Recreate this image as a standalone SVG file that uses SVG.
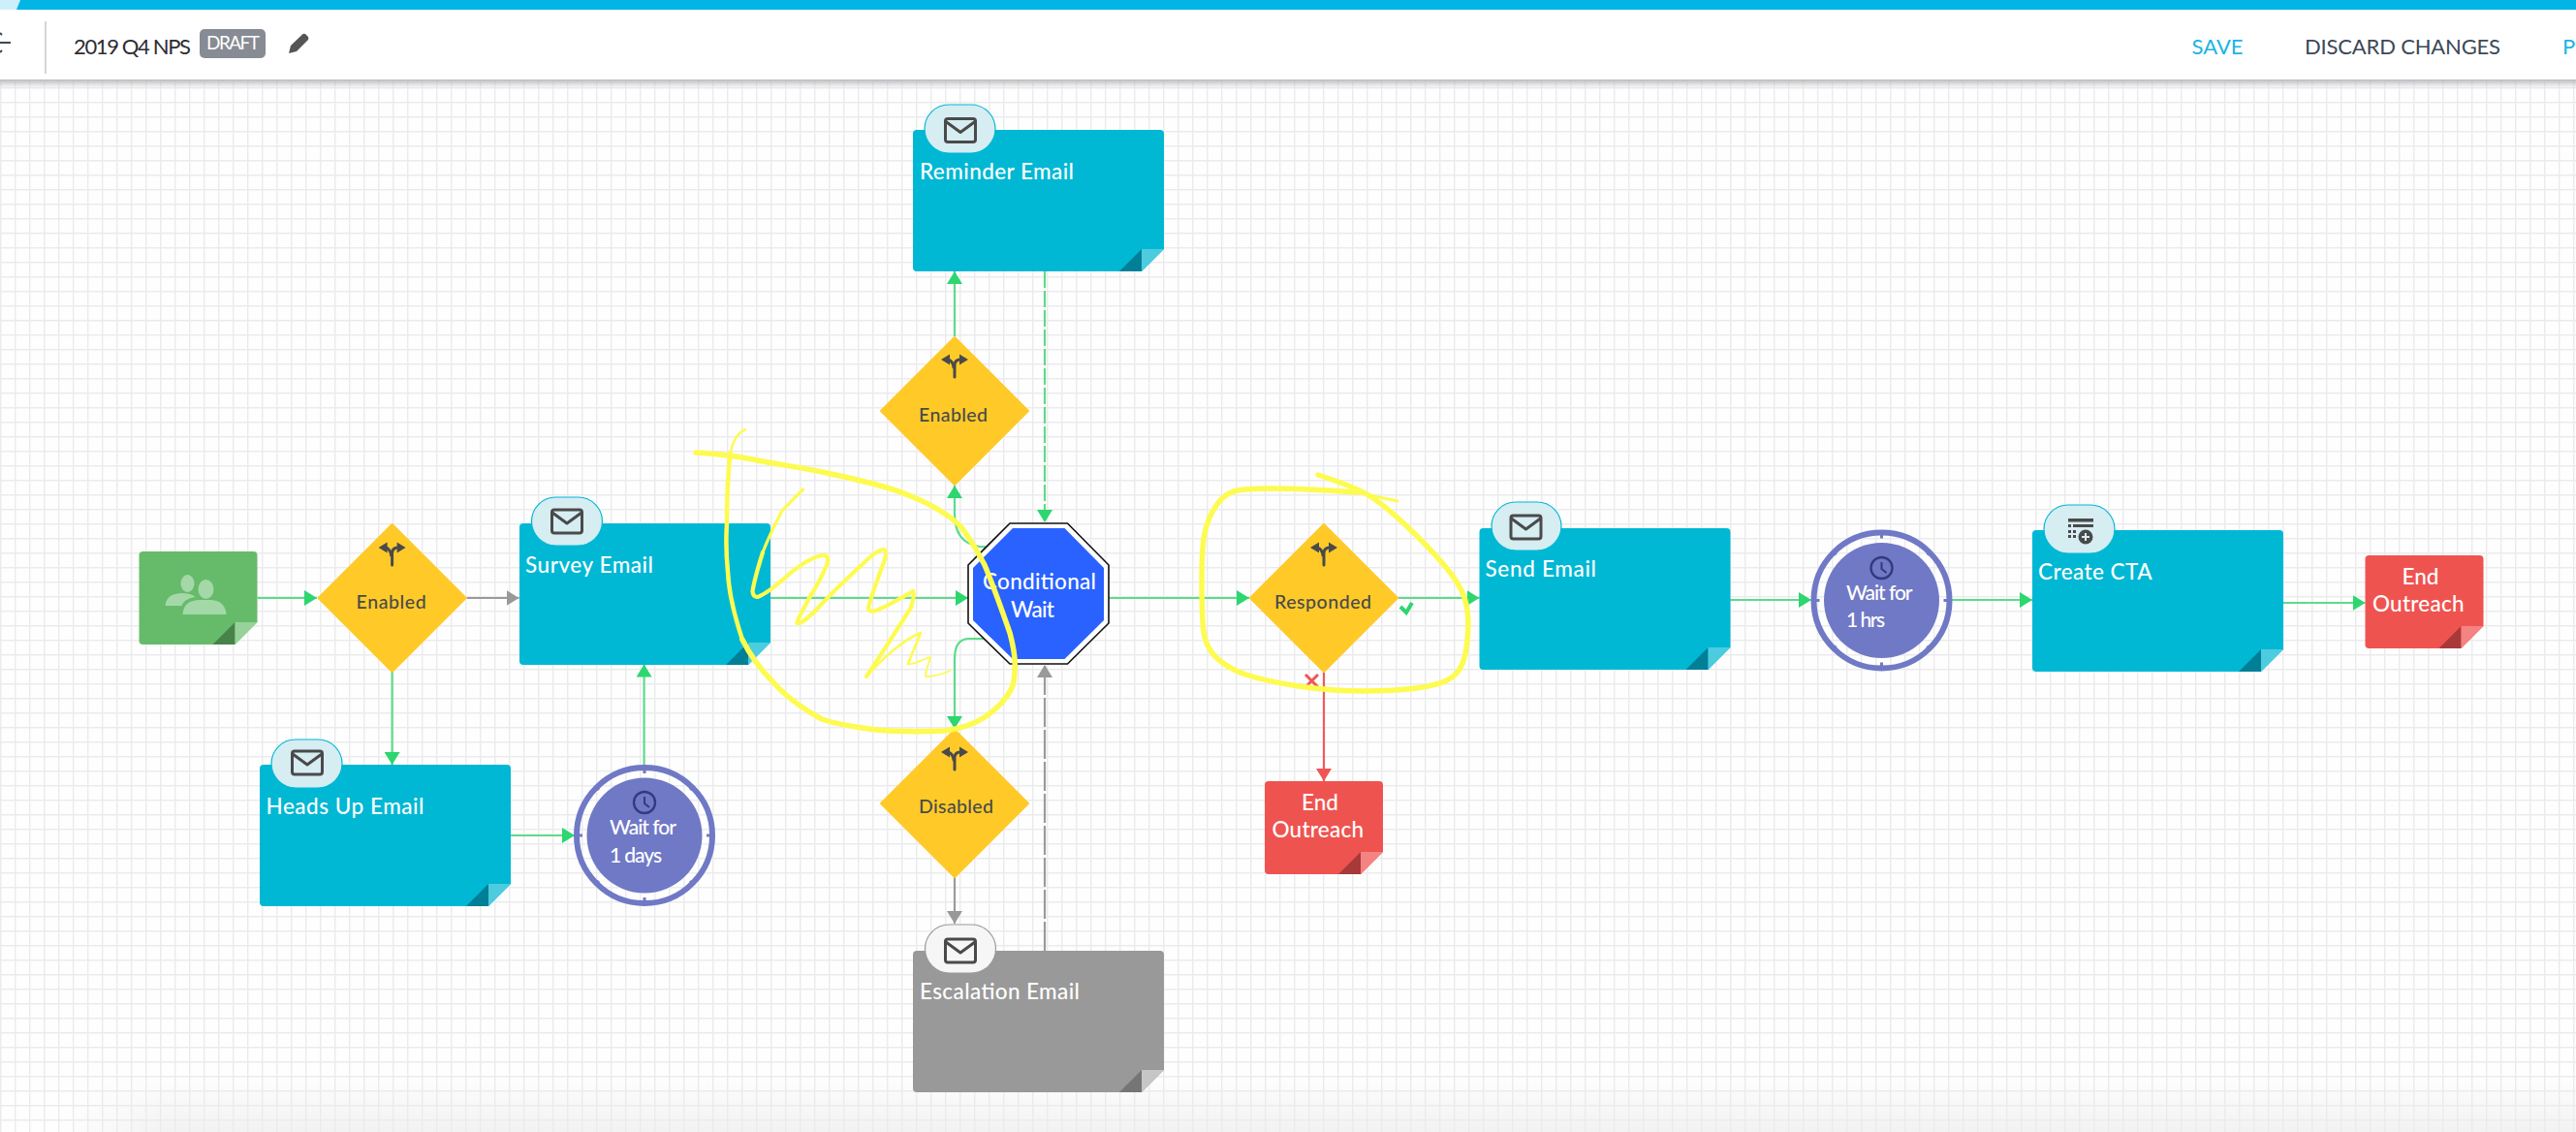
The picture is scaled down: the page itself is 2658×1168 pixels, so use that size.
<svg xmlns="http://www.w3.org/2000/svg" width="2658" height="1168" viewBox="0 0 2658 1168">
<style>
text{font-family:Lato,"Open Sans","Liberation Sans",sans-serif}
.title{font-size:22.5px;font-weight:500;fill:#fff}
.wait{font-size:21px;font-weight:500;fill:#fff}
.dlabel{font-size:19.5px;font-weight:500;fill:#4a4a4a}
.hdr{font-size:22px}
.conn{fill:none;stroke-width:2.2}
.g{stroke:#5ddb8b}.gr{stroke:#9b9b9b}.r{stroke:#f05a5a}
.dash{stroke-dasharray:17 3}
.dashL{stroke-dasharray:30 3}
.cyan{fill:#00b8d4}.cyanL{fill:#4dcce0}.cyanD{fill:#007f96}
.green{fill:#66bb6a}.greenL{fill:#98d29b}.greenD{fill:#47824a}
.red{fill:#ef5350}.redL{fill:#f48381}.redD{fill:#a73a38}
.grey{fill:#999}.greyL{fill:#c6c6c6}.greyD{fill:#757575}
.dia{fill:#ffca28}
.pill{fill:#d6edf2;stroke:#00b8d4;stroke-width:1.2}
.pillG{fill:#f6f6f6;stroke:#999;stroke-width:1.2}
.ink{fill:none;stroke:#4a4a4a;stroke-width:3;stroke-linejoin:round;stroke-linecap:round}
.inkF{fill:#4a4a4a}
.ring{fill:none;stroke:#7079c5;stroke-width:6}
.core{fill:#7079c5}
.tick{stroke:#7079c5;stroke-width:3}
.scr{fill:none;stroke:#fdfb4f;stroke-linecap:round;stroke-linejoin:round}
</style>
<defs>
<pattern id="grid" width="15" height="15" patternUnits="userSpaceOnUse">
<path d="M0.7 0V15M0 0.7H15" fill="none" stroke="#ebebed" stroke-width="1.4"/>
</pattern>
<linearGradient id="shadow" x1="0" y1="0" x2="0" y2="1"><stop offset="0" stop-color="#bcbdc0"/><stop offset="1" stop-color="#bcbdc0" stop-opacity="0"/></linearGradient>
<linearGradient id="foot" x1="0" y1="0" x2="0" y2="1"><stop offset="0" stop-color="#f2f2f2" stop-opacity="0"/><stop offset="1" stop-color="#f2f2f2"/></linearGradient>
<linearGradient id="footFade" x1="0" y1="0" x2="1" y2="0"><stop offset="0" stop-color="#fefefe"/><stop offset="1" stop-color="#fefefe" stop-opacity="0"/></linearGradient>
<marker id="aG" markerUnits="userSpaceOnUse" markerWidth="13" markerHeight="16" refX="13" refY="8" orient="auto"><path d="M0 0L13 8L0 16Z" fill="#2dd66f"/></marker>
<marker id="aGr" markerUnits="userSpaceOnUse" markerWidth="13" markerHeight="16" refX="13" refY="8" orient="auto"><path d="M0 0L13 8L0 16Z" fill="#999"/></marker>
<marker id="aR" markerUnits="userSpaceOnUse" markerWidth="13" markerHeight="16" refX="13" refY="8" orient="auto"><path d="M0 0L13 8L0 16Z" fill="#f05555"/></marker>
<path id="bigBody" d="M4 0H255Q259 0 259 4V123L236 146H4Q0 146 0 142V4Q0 0 4 0Z"/>
<path id="bigDark" d="M213 146L236 123V146Z"/>
<path id="bigLight" d="M236 123H259L236 146Z"/>
<path id="smBody" d="M4 0H118Q122 0 122 4V73L99 96H4Q0 96 0 92V4Q0 0 4 0Z"/>
<path id="smDark" d="M76 96L99 73V96Z"/>
<path id="smLight" d="M99 73H122L99 96Z"/>
<g id="mail"><rect x="-15.5" y="-12" width="31" height="24" rx="2.5" class="ink"/><path d="M-15 -9L0 2L15 -9" class="ink"/></g>
<g id="fork">
<path d="M0 24V12Q0 6 6 6" class="ink" stroke-width="3.4"/><path d="M5 0.5L14 6L5 11.5Z" class="inkF"/>
<path d="M-1 14Q-2 7 -7 6" class="ink" stroke-width="3.4"/><path d="M-5 0.5L-14 6L-5 11.5Z" class="inkF"/>
</g>
<g id="clock"><circle r="11" fill="none" stroke="#333a80" stroke-width="2.4"/><path d="M0 -6V1L5 5" fill="none" stroke="#333a80" stroke-width="2"/></g>
<g id="ticks"><path class="tick" d="M0 -70V-64M0 70V64M-70 0H-64M70 0H64"/><path class="tick" d="M-49 -49L-47 -47M49 -49L47 -47M-49 49L-47 47M49 49L47 47"/></g>
<path id="dia" d="M0 -76L76 0L0 76L-76 0Z" stroke="#ffca28" stroke-width="2" stroke-linejoin="round"/>
</defs>

<g id="canvas">
<rect width="2658" height="1168" fill="#fefefe"/>
<rect x="60" y="1110" width="2598" height="58" fill="url(#foot)"/>
<rect x="60" y="1110" width="110" height="58" fill="url(#footFade)"/>
<rect width="2658" height="1168" fill="url(#grid)"/>
</g>

<g id="connectors">
<path class="conn g" marker-end="url(#aG)" d="M265.5 617H327"/>
<path class="conn gr" marker-end="url(#aGr)" d="M481.5 617H535.5"/>
<path class="conn g" marker-end="url(#aG)" d="M404.6 693V789"/>
<path class="conn g" marker-end="url(#aG)" d="M527 862H593"/>
<path class="conn g" marker-end="url(#aG)" d="M664.6 789V685.5"/>
<path class="conn g" marker-end="url(#aG)" d="M795 617H999"/>
<path class="conn g" marker-end="url(#aG)" d="M1144 617H1289"/>
<path class="conn g" marker-end="url(#aG)" d="M1443 617H1526.5"/>
<path class="conn g" marker-end="url(#aG)" d="M1785 619H1869"/>
<path class="conn g" marker-end="url(#aG)" d="M2013.5 619H2097"/>
<path class="conn g" marker-end="url(#aG)" d="M2356 622H2440.5"/>
<path class="conn r" marker-end="url(#aR)" d="M1366 694V806"/>
<path class="conn g" marker-end="url(#aG)" d="M1025 564Q985 568 985 530V501"/>
<path class="conn g" marker-end="url(#aG)" d="M1025 659H1000Q985 659 985 680V752"/>
<path class="conn g" marker-end="url(#aG)" d="M985 347V280"/>
<path class="conn gr" marker-end="url(#aGr)" d="M985 905V953"/>
<path class="conn g dash" marker-end="url(#aG)" d="M1078 280V539"/>
<path class="conn gr dashL" marker-end="url(#aGr)" d="M1078 981V686"/>
</g>

<g id="header">
<rect y="82" width="2658" height="9" fill="url(#shadow)"/>
<rect y="10" width="2658" height="72" fill="#fff"/>
<rect width="2658" height="10" fill="#02b5e4"/>
<path d="M0 0H21L17 10H0Z" fill="#cdeff9"/>
<rect x="46" y="22" width="2" height="54" fill="#d2d6da"/>
<path d="M0 44H11M0 34L2 36M0 54L2 52" fill="none" stroke="#3c4858" stroke-width="2"/>
<text x="76" y="56" class="hdr" fill="#2d2d33" textLength="121">2019 Q4 NPS</text>
<rect x="206" y="30" width="68" height="30" rx="5" fill="#878b93"/>
<text x="213" y="51" font-size="19" fill="#fff" textLength="55">DRAFT</text>
<path d="M298 55L300 47L312 35.5Q314 34 316 36L318 38Q319 40 317.5 41.5L306 53Z" fill="#555"/>
<text x="2261.5" y="56" class="hdr" fill="#1ab5e4" textLength="53">SAVE</text>
<text x="2378" y="56" class="hdr" fill="#3c4858" textLength="202">DISCARD CHANGES</text>
<text x="2644" y="56" class="hdr" fill="#1ab5e4">P</text>
</g>

<g id="node-start" transform="translate(143.5 569)">
<use href="#smBody" class="green"/><use href="#smDark" class="greenD"/><use href="#smLight" class="greenL"/>
<g fill="#a5d8a8">
<ellipse cx="50" cy="33" rx="7" ry="9"/><ellipse cx="69" cy="39" rx="8" ry="10"/>
<path d="M27 56Q28 44 43 43Q54 43 58 47Q46 49 44 56Z"/>
<path d="M45 65Q46 50 63 50H74Q89 51 90 65Z"/>
</g>
</g>

<g id="node-enabled-1" transform="translate(404.6 617)"><use href="#dia" class="dia"/><use href="#fork" y="-58"/><text x="-37" y="11" class="dlabel" textLength="72">Enabled</text></g>

<g id="node-survey" transform="translate(536 540)">
<use href="#bigBody" class="cyan"/><use href="#bigDark" class="cyanD"/><use href="#bigLight" class="cyanL"/>
<rect x="12.5" y="-27" width="73" height="50" rx="25" class="pill"/><use href="#mail" x="49" y="-2"/>
<text x="6" y="51" class="title" textLength="132">Survey Email</text>
</g>

<g id="node-headsup" transform="translate(268 789)">
<use href="#bigBody" class="cyan"/><use href="#bigDark" class="cyanD"/><use href="#bigLight" class="cyanL"/>
<rect x="12" y="-26" width="73" height="50" rx="25" class="pill"/><use href="#mail" x="49" y="-2"/>
<text x="6.5" y="51" class="title" textLength="163">Heads Up Email</text>
</g>

<g id="node-wait-1" transform="translate(665 862)">
<circle r="70" class="ring"/><circle r="59.5" class="core"/><use href="#ticks"/>
<use href="#clock" y="-34"/>
<text x="-36" y="-1" class="wait" textLength="69">Wait for</text>
<text x="-36" y="28" class="wait" textLength="54">1 days</text>
</g>

<g id="node-reminder" transform="translate(942 134)">
<use href="#bigBody" class="cyan"/><use href="#bigDark" class="cyanD"/><use href="#bigLight" class="cyanL"/>
<rect x="12" y="-26" width="73" height="50" rx="25" class="pill"/><use href="#mail" x="49" y="0.5"/>
<text x="7" y="51" class="title" textLength="159">Reminder Email</text>
</g>

<g id="node-enabled-2" transform="translate(985 424)"><use href="#dia" class="dia"/><use href="#fork" y="-59"/><text x="-37" y="11" class="dlabel" textLength="71">Enabled</text></g>

<g id="node-conditional">
<path d="M1042 540H1101.5L1144 583V643L1101.5 685H1042L999 643V583Z" fill="#fff" stroke="#111" stroke-width="1.6"/>
<path d="M1045 545H1098.5L1139 586V640L1098.5 680H1045L1004 640V586Z" fill="#2962ff"/>
<text x="1014" y="608" class="title" textLength="117">Conditional</text>
<text x="1043" y="637" class="title" textLength="45">Wait</text>
</g>

<g id="node-disabled" transform="translate(985 829)"><use href="#dia" class="dia"/><use href="#fork" y="-59"/><text x="-37" y="10" class="dlabel" textLength="77">Disabled</text></g>

<g id="node-escalation" transform="translate(942 981)">
<use href="#bigBody" class="grey"/><use href="#bigDark" class="greyD"/><use href="#bigLight" class="greyL"/>
<rect x="12.5" y="-27" width="73" height="50" rx="25" class="pillG"/><use href="#mail" x="49" y="0"/>
<text x="7" y="50" class="title" textLength="165">Escalation Email</text>
</g>

<g id="node-responded" transform="translate(1366 617)"><use href="#dia" class="dia"/><use href="#fork" y="-58"/><text x="-51" y="11" class="dlabel" textLength="100">Responded</text>
<path d="M79 9L85 15L91 5" fill="none" stroke="#2dd66f" stroke-width="4"/>
<path d="M-19 79L-6 92M-6 79L-19 92" fill="none" stroke="#f05555" stroke-width="3"/></g>

<g id="node-end-1" transform="translate(1305 806)">
<use href="#smBody" class="red"/><use href="#smDark" class="redD"/><use href="#smLight" class="redL"/>
<text x="38" y="30" class="title" textLength="38">End</text>
<text x="7.5" y="58" class="title" textLength="94.5">Outreach</text>
</g>

<g id="node-send" transform="translate(1526.5 545)">
<use href="#bigBody" class="cyan"/><use href="#bigDark" class="cyanD"/><use href="#bigLight" class="cyanL"/>
<rect x="12.5" y="-27" width="72" height="50" rx="25" class="pill"/><use href="#mail" x="48" y="-1"/>
<text x="6" y="50" class="title" textLength="114.5">Send Email</text>
</g>

<g id="node-wait-2" transform="translate(1941.5 619.5)">
<circle r="70" class="ring"/><circle r="59.5" class="core"/><use href="#ticks"/>
<use href="#clock" y="-33.5"/>
<text x="-36.5" y="-0.5" class="wait" textLength="68.5">Wait for</text>
<text x="-36.5" y="27.5" class="wait" textLength="40">1 hrs</text>
</g>

<g id="node-cta" transform="translate(2097 547)">
<use href="#bigBody" class="cyan"/><use href="#bigDark" class="cyanD"/><use href="#bigLight" class="cyanL"/>
<rect x="12" y="-26" width="73" height="50" rx="25" class="pill"/>
<g class="inkF">
<rect x="37" y="-12" width="26" height="3.5"/>
<rect x="37" y="-6" width="3" height="3"/><rect x="42" y="-6" width="21" height="3"/>
<rect x="37" y="0" width="3" height="3"/><rect x="42" y="0" width="3" height="3"/>
<rect x="37" y="5" width="3" height="3"/><rect x="42" y="5" width="3" height="3"/>
<circle cx="55" cy="7" r="7.5"/>
</g>
<path d="M51 7H59M55 3V11" stroke="#d6edf2" stroke-width="2"/>
<text x="6" y="51" class="title" textLength="117.5">Create CTA</text>
</g>

<g id="node-end-2" transform="translate(2440.5 573)">
<use href="#smBody" class="red"/><use href="#smDark" class="redD"/><use href="#smLight" class="redL"/>
<text x="38" y="30" class="title" textLength="38">End</text>
<text x="7.5" y="58" class="title" textLength="94.5">Outreach</text>
</g>

<g id="annotations">
<path class="scr" stroke-width="5.5" d="M718 467C740 468 750 470 766 472C800 479 826 482 853 488C890 496 916 502 940 512C962 521 978 530 991 543C1000 554 1008 568 1016 583C1026 607 1034 630 1042 653C1046 668 1048 680 1047 690C1047 700 1046 705 1044 710C1038 722 1028 732 1016 740C1004 748 990 752 975 754C950 755 925 755 904 753C884 750 864 748 848 742C826 730 810 718 797 703C784 690 774 676 766 660"/>
<path class="scr" stroke-width="4.5" d="M766 660C758 636 752 612 751 590C749 570 749 555 750 540C750 515 751 490 753.6 467"/>
<path class="scr" stroke-width="2.5" d="M753.6 467C756 456 760 447 769 443"/>
<path class="scr" stroke-width="3.2" d="M828.6 505C818 515 812 522 807 527C798 544 792 557 787 570"/>
<path class="scr" stroke-width="4.2" d="M787 570C782 586 778 600 776.5 610C777 616 781 617 784 615C795 610 806 600 817 590C830 580 842 573 850.5 573C855 574 855 578 853 583C848 595 842 606 835 617C829 629 824 636 822.4 643C826 645 838 634 848 623C862 608 876 595 889 583C898 574 906 567 912 567C915 568 914 574 912 580C906 596 900 612 896 627C896 631 900 631 904 630C918 624 932 616 942 610C944 612 942 620 940 627C925 650 908 678 894 698"/>
<path class="scr" stroke-width="2.6" d="M894 698C910 680 932 660 950 653C946 664 940 676 937 685"/>
<path class="scr" stroke-width="1.8" d="M937 685C944 686 952 680 960 678C958 686 955 692 955 698C964 698 972 696 980.6 692"/>
<path class="scr" stroke-width="5.5" d="M1360 490Q1397 502 1412 511Q1427 520 1450 541.5Q1473 563 1490 583Q1507 603 1511.5 618Q1516 633 1514.5 655Q1513 677 1508 687Q1503 697 1493 702Q1483 707 1461.5 710Q1440 713 1406.5 713Q1373 713 1340 708Q1307 703 1287 696.5Q1267 690 1255 678.5Q1243 667 1241.5 648.5Q1240 630 1240 596.5Q1240 563 1243.5 548Q1247 533 1255 521.5Q1263 510 1273 507Q1283 504 1311.5 504Q1340 504 1370 506L1400 508"/>
<path class="scr" stroke-width="3" d="M1400 508L1442 517"/>
</g>
</svg>
